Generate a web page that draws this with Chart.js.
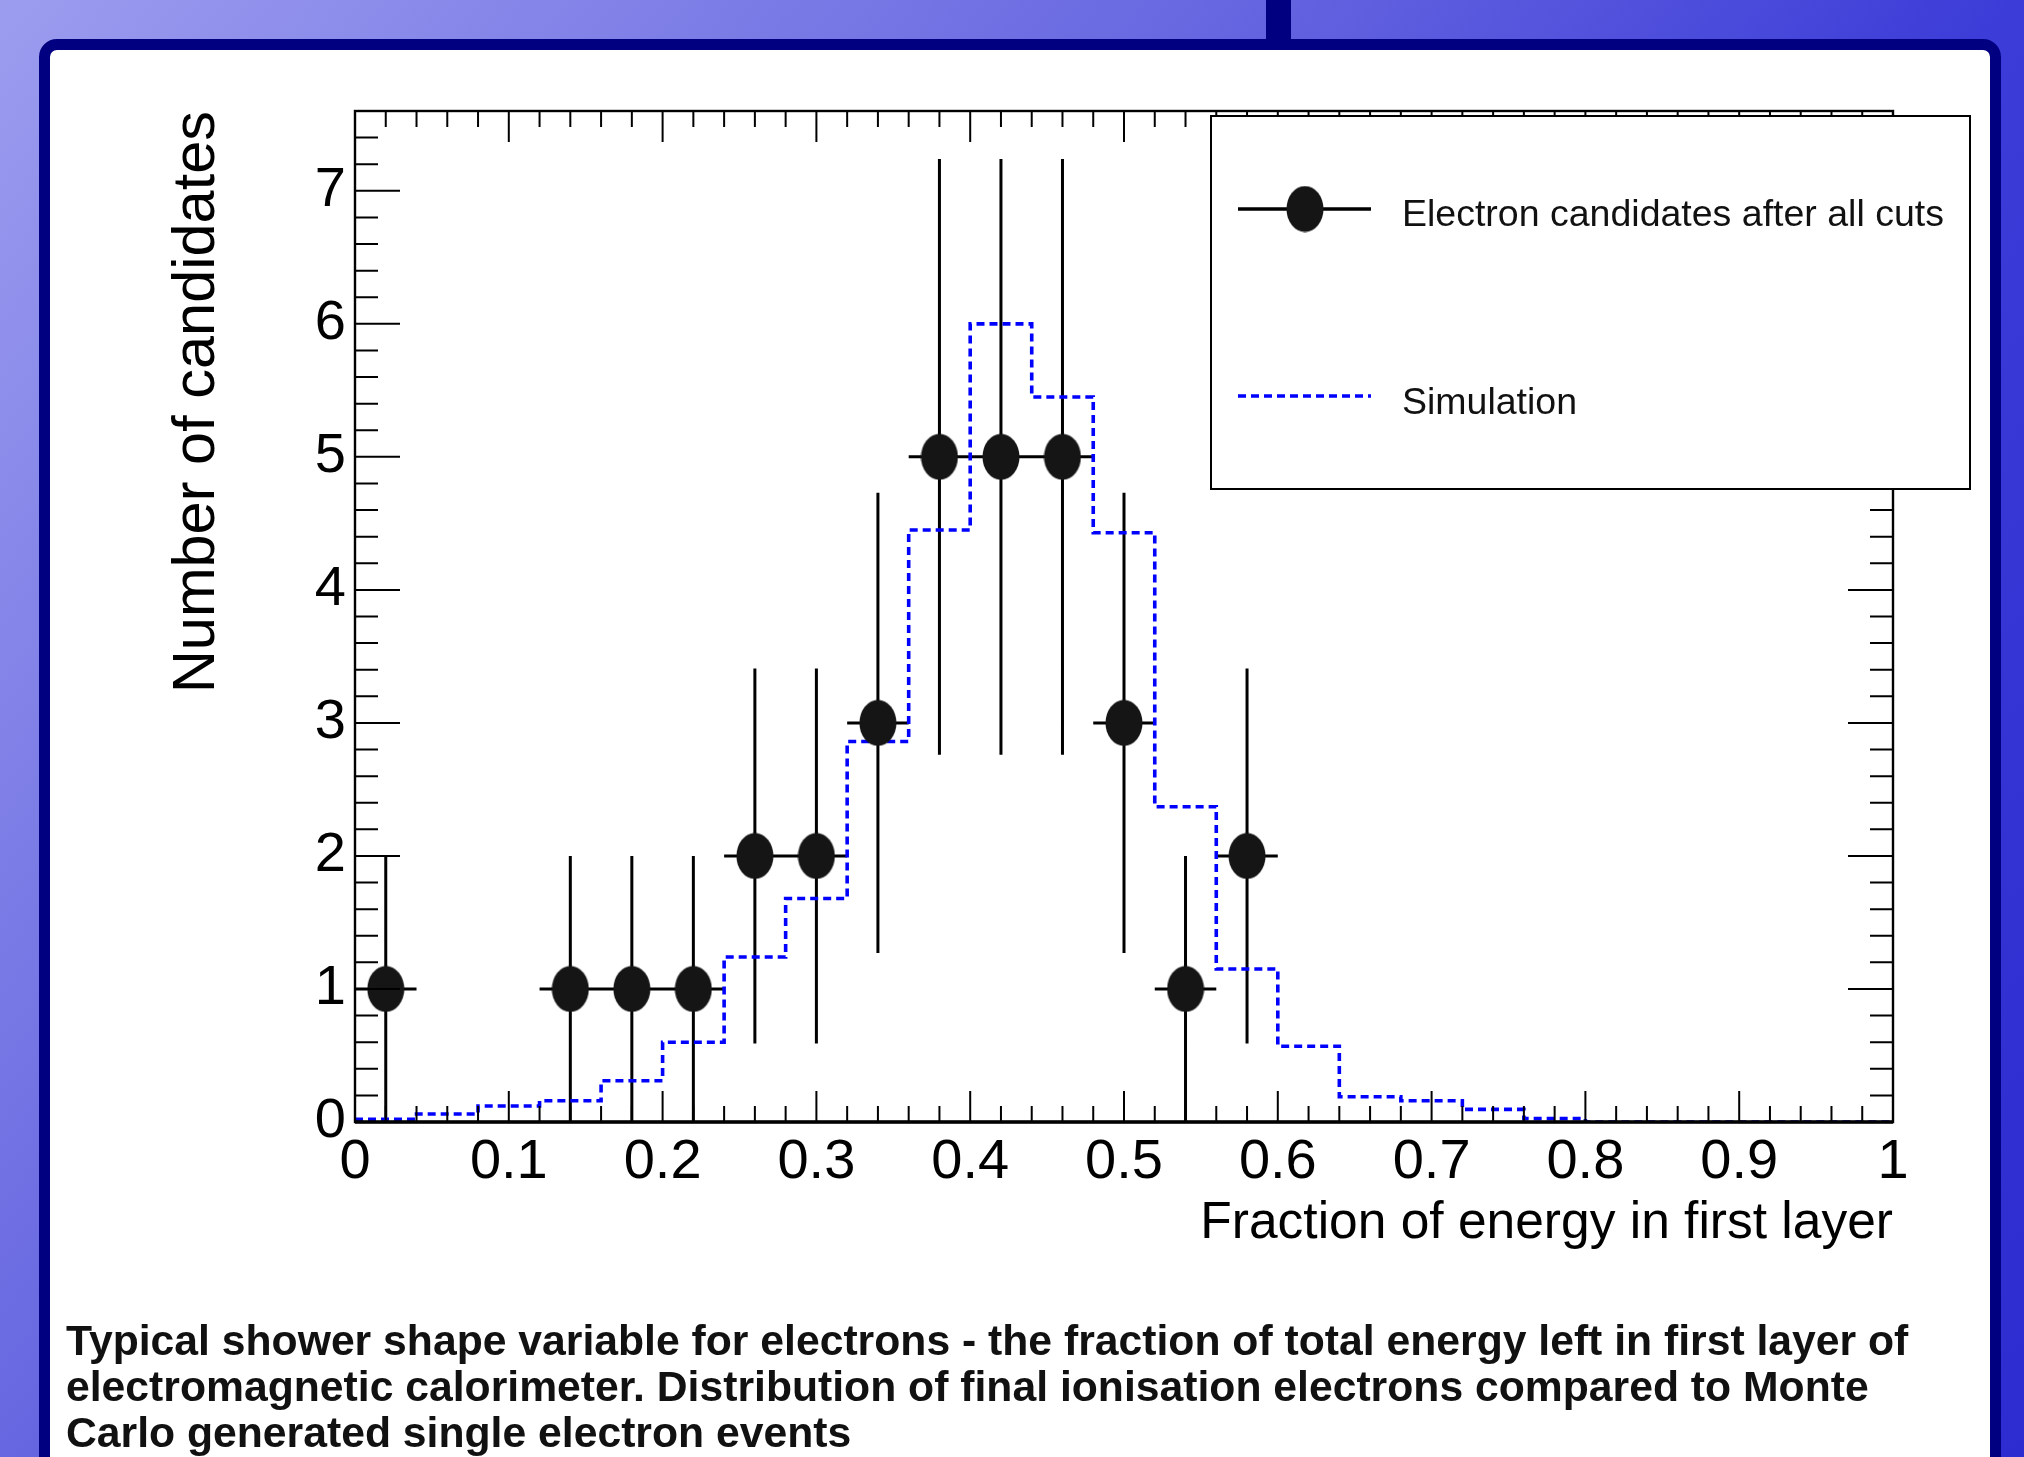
<!DOCTYPE html>
<html>
<head>
<meta charset="utf-8">
<script src="https://cdn.jsdelivr.net/npm/chart.js@4.4.1/dist/chart.umd.min.js"></script>
<style>
  html, body { margin: 0; padding: 0; width: 2024px; height: 1457px; overflow: hidden; }
  body {
    position: relative;
    font-family: "Liberation Sans", Arial, sans-serif;
    background: linear-gradient(130deg, #9c9cef 0%, #6868e1 37%, #3c3cd8 62%, #2c2cd0 100%);
  }
  #bar { position: absolute; left: 1266px; top: 0; width: 25px; height: 50px; background: #000080; }
  #panel {
    position: absolute; left: 39px; top: 39px; width: 1940px; height: 1480px;
    border: 11px solid #000080; border-radius: 18px; background: #fff;
  }
  #chart { position: absolute; left: 0; top: 0; }
  #caption {
    position: absolute; left: 66px; top: 1317px; width: 1920px;
    font-weight: bold; font-size: 42.7px; line-height: 46px; color: #111; white-space: nowrap;
  }
</style>
</head>
<body>
<div id="bar"></div>
<div id="panel"></div>
<canvas id="chart" width="2024" height="1457"></canvas>
<div id="caption">Typical shower shape variable for electrons - the fraction of total energy left in first layer of<br>electromagnetic calorimeter. Distribution of final ionisation electrons compared to Monte<br>Carlo generated single electron events</div>
<script>
// electron candidates (points with errors)
const pointX = [0.02, 0.14, 0.18, 0.22, 0.26, 0.30, 0.34, 0.38, 0.42, 0.46, 0.50, 0.54, 0.58];
const pointY = [1, 1, 1, 1, 2, 2, 3, 5, 5, 5, 3, 1, 2];
const pointYErr = [1, 1, 1, 1, 1.41, 1.41, 1.73, 2.24, 2.24, 2.24, 1.73, 1, 1.41];
const pointXErr = [0.02, 0.02, 0.02, 0.02, 0.02, 0.02, 0.02, 0.02, 0.02, 0.02, 0.02, 0.02, 0.02];

// simulation histogram: bin edges and contents
const simEdges = [0, 0.04, 0.08, 0.12, 0.16, 0.20, 0.24, 0.28, 0.32, 0.36, 0.40, 0.44, 0.48,
  0.52, 0.56, 0.60, 0.64, 0.68, 0.72, 0.76, 0.80, 0.84, 0.88, 0.92, 0.96, 1.0];
const simValues = [0.02, 0.06, 0.12, 0.16, 0.31, 0.60, 1.24, 1.68, 2.86, 4.45, 6.0, 5.45, 4.43,
  2.37, 1.15, 0.57, 0.19, 0.16, 0.095, 0.025, 0, 0, 0, 0, 0];

const xTickLabels = ['0', '0.1', '0.2', '0.3', '0.4', '0.5', '0.6', '0.7', '0.8', '0.9', '1'];
const yTickLabels = ['0', '1', '2', '3', '4', '5', '6', '7'];

const seriesLabels = ['Electron candidates after all cuts', 'Simulation'];

Chart.defaults.font.family = '"Liberation Sans", Arial, sans-serif';
Chart.defaults.color = '#000';

// elliptical marker, like the stretched ROOT full circle
const marker = document.createElement('canvas');
marker.width = 38;
marker.height = 47;
(function () {
  const c = marker.getContext('2d');
  c.fillStyle = '#151515';
  c.beginPath();
  c.ellipse(19, 23.5, 18.5, 23, 0, 0, Math.PI * 2);
  c.fill();
})();

const simPoints = simEdges.map((e, i) => ({ x: e, y: simValues[Math.min(i, simValues.length - 1)] }));

const errorBars = {
  id: 'errorBars',
  beforeDatasetsDraw(chart) {
    const { ctx, scales: { x, y } } = chart;
    ctx.save();
    ctx.strokeStyle = '#000';
    ctx.lineWidth = 3;
    ctx.beginPath();
    pointX.forEach((px, i) => {
      const cx = x.getPixelForValue(px);
      const cy = y.getPixelForValue(pointY[i]);
      ctx.moveTo(cx, y.getPixelForValue(Math.max(0, pointY[i] - pointYErr[i])));
      ctx.lineTo(cx, y.getPixelForValue(pointY[i] + pointYErr[i]));
      ctx.moveTo(x.getPixelForValue(px - pointXErr[i]), cy);
      ctx.lineTo(x.getPixelForValue(px + pointXErr[i]), cy);
    });
    ctx.stroke();
    ctx.restore();
  }
};

// frame with inward ticks on all four sides
const frameTicks = {
  id: 'frameTicks',
  afterDatasetsDraw(chart) {
    const { ctx, chartArea: a, scales: { x, y } } = chart;
    ctx.save();
    ctx.strokeStyle = '#000';
    ctx.lineWidth = 2;
    ctx.beginPath();
    for (let k = 0; k <= 50; k++) {
      const px = x.getPixelForValue(k / 50);
      const len = k % 5 === 0 ? 31 : 16;
      ctx.moveTo(px, a.bottom); ctx.lineTo(px, a.bottom - len);
      ctx.moveTo(px, a.top); ctx.lineTo(px, a.top + len);
    }
    for (let k = 0; k / 5 <= y.max; k++) {
      const py = y.getPixelForValue(k / 5);
      const len = k % 5 === 0 ? 45 : 23;
      ctx.moveTo(a.left, py); ctx.lineTo(a.left + len, py);
      ctx.moveTo(a.right, py); ctx.lineTo(a.right - len, py);
    }
    ctx.stroke();
    ctx.lineWidth = 2.4;
    ctx.strokeRect(a.left, a.top, a.right - a.left, a.bottom - a.top);
    ctx.lineWidth = 3.5;
    ctx.beginPath();
    ctx.moveTo(a.left, a.bottom); ctx.lineTo(a.right, a.bottom);
    ctx.stroke();
    ctx.restore();
  }
};

// boxed legend in the upper right
const boxLegend = {
  id: 'boxLegend',
  afterDraw(chart) {
    const ctx = chart.ctx;
    const ds = chart.data.datasets;
    ctx.save();
    ctx.fillStyle = '#fff';
    ctx.fillRect(1211, 116, 759, 373);
    ctx.strokeStyle = '#000';
    ctx.lineWidth = 2;
    ctx.strokeRect(1211, 116, 759, 373);

    ctx.lineWidth = 3.5;
    ctx.strokeStyle = '#000';
    ctx.beginPath();
    ctx.moveTo(1238, 209); ctx.lineTo(1371, 209);
    ctx.stroke();
    ctx.drawImage(marker, 1305 - 19, 209 - 23.5);

    ctx.strokeStyle = ds[1].borderColor;
    ctx.setLineDash(ds[1].borderDash);
    ctx.beginPath();
    ctx.moveTo(1238, 396); ctx.lineTo(1371, 396);
    ctx.stroke();
    ctx.setLineDash([]);

    ctx.fillStyle = '#111';
    ctx.font = '37.5px "Liberation Sans", Arial, sans-serif';
    ctx.textBaseline = 'alphabetic';
    ctx.fillText(ds[0].label, 1402, 226);
    ctx.fillText(ds[1].label, 1402, 414);
    ctx.restore();
  }
};

new Chart(document.getElementById('chart'), {
  type: 'scatter',
  data: {
    datasets: [
      {
        label: seriesLabels[0],
        data: pointX.map((v, i) => ({ x: v, y: pointY[i] })),
        pointStyle: marker,
        pointRadius: 20,
        showLine: false,
        order: 0
      },
      {
        type: 'line',
        label: seriesLabels[1],
        data: simPoints,
        stepped: true,
        borderColor: '#0000ff',
        borderWidth: 3.6,
        borderDash: [8, 5],
        pointRadius: 0,
        fill: false,
        order: 1
      }
    ]
  },
  options: {
    responsive: false,
    animation: false,
    devicePixelRatio: 1,
    events: [],
    layout: { padding: { top: 111, right: 131, left: 0, bottom: 0 } },
    plugins: { legend: { display: false }, tooltip: { enabled: false } },
    scales: {
      x: {
        type: 'linear',
        min: 0,
        max: 1,
        grid: { display: false, drawTicks: false },
        border: { display: false },
        ticks: {
          stepSize: 0.1,
          autoSkip: false,
          maxRotation: 0,
          includeBounds: false,
          padding: 7,
          font: { size: 56 },
          callback: (v, i) => xTickLabels[i]
        },
        title: {
          display: true,
          text: 'Fraction of energy in first layer',
          align: 'end',
          font: { size: 51.5 },
          padding: { top: 0, bottom: 202 }
        },
        afterFit: (s) => { s.height = 335; }
      },
      y: {
        type: 'linear',
        min: 0,
        max: 7.6,
        grid: { display: false, drawTicks: false },
        border: { display: false },
        ticks: {
          stepSize: 1,
          includeBounds: false,
          padding: 9,
          font: { size: 56 },
          callback: (v, i) => yTickLabels[i]
        },
        title: {
          display: true,
          text: 'Number of candidates',
          align: 'end',
          font: { size: 59.5 },
          padding: { top: 162, bottom: 0 }
        },
        afterFit: (s) => { s.width = 355; }
      }
    }
  },
  plugins: [errorBars, frameTicks, boxLegend]
});
</script>
</body>
</html>
